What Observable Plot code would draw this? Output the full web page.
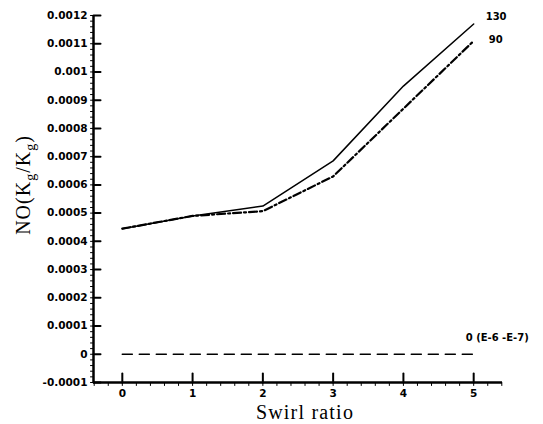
<!DOCTYPE html>
<html><head><meta charset="utf-8">
<script src="https://cdn.jsdelivr.net/npm/d3@7"></script>
<script src="https://cdn.jsdelivr.net/npm/@observablehq/plot@0.6"></script>
<style>body{margin:0;background:#fff} svg{display:block}</style>
</head><body><div id="chart"></div>
<script>
const swirl = [0, 1, 2, 3, 4, 5];
const no130 = [0.000445, 0.00049, 0.000525, 0.000685, 0.00095, 0.00117];
const no90  = [0.000445, 0.00049, 0.000507, 0.00063, 0.00087, 0.00111];
const no0   = [0, 0, 0, 0, 0, 0];
const xTicks = [0, 1, 2, 3, 4, 5];
const yTicks = [-0.0001, 0, 0.0001, 0.0002, 0.0003, 0.0004, 0.0005, 0.0006, 0.0007, 0.0008, 0.0009, 0.001, 0.0011, 0.0012];
const seriesNames = ["130", "90", "0 (E-6 -E-7)"];

const rows = (vals, name) => swirl.map((s, i) => ({x: s, y: vals[i], name}));
const d130 = rows(no130, seriesNames[0]);
const d90 = rows(no90, seriesNames[1]);
const d0 = rows(no0, seriesNames[2]);

const xMin = -0.41, xMax = 5.41, yMin = -0.0001, yMax = 0.0012;
const yMinor = d3.range(0, 66).map(i => yMin + i * 0.00002);
const xMinor = d3.range(0, 30).map(i => -0.4 + i * 0.2);
const tickShape = {draw(ctx, l) { ctx.moveTo(0, 0); ctx.lineTo(0, -l); }};
const sans = "DejaVu Sans";
const serif = "Liberation Serif";

const chart = Plot.plot({
  width: 543, height: 424,
  marginLeft: 93, marginRight: 41, marginTop: 15, marginBottom: 42,
  style: {background: "#fff", color: "#000"},
  x: {domain: [xMin, xMax]},
  y: {domain: [yMin, yMax]},
  marks: [
    // minor ticks
    Plot.vector(yMinor, {x: () => xMin, y: d => d, length: 3, rotate: 270, anchor: "start", shape: tickShape, stroke: "#000", strokeWidth: 1}),
    Plot.vector(xMinor, {x: d => d, y: () => yMin, length: 3, rotate: 180, anchor: "start", shape: tickShape, stroke: "#000", strokeWidth: 1}),
    // major ticks (inward)
    Plot.vector(yTicks, {x: () => xMin, y: d => d, length: 7, rotate: 90, anchor: "start", shape: tickShape, stroke: "#000", strokeWidth: 2}),
    Plot.vector(xTicks, {x: d => d, y: () => yMin, length: 9, rotate: 0, anchor: "start", shape: tickShape, stroke: "#000", strokeWidth: 2}),
    // frame
    Plot.ruleX([xMin], {stroke: "#000", strokeWidth: 2.5}),
    Plot.ruleY([yMin], {stroke: "#000", strokeWidth: 2.5}),
    // axes labels
    Plot.axisY(yTicks, {tickSize: 0, tickPadding: 6, label: null, tickFormat: d => String(+d.toFixed(4)),
      fontFamily: sans, fontWeight: "bold", fontSize: 10.5}),
    Plot.axisX(xTicks, {tickSize: 0, tickPadding: 7, label: null, tickFormat: d => String(d),
      fontFamily: sans, fontWeight: "bold", fontSize: 10.5}),
    // series
    Plot.line(d0, {x: "x", y: "y", stroke: "#000", strokeWidth: 1.6, strokeDasharray: "10,7"}),
    Plot.line(d90, {x: "x", y: "y", stroke: "#000", strokeWidth: 2.2, strokeDasharray: "8,3,2,3"}),
    Plot.line(d130, {x: "x", y: "y", stroke: "#000", strokeWidth: 1.5}),
    // end labels
    Plot.text([d130[5]], {x: "x", y: "y", text: "name", dx: 12, dy: -7, textAnchor: "start", fontFamily: sans, fontWeight: "bold", fontSize: 10}),
    Plot.text([d90[5]], {x: "x", y: "y", text: "name", dx: 15, dy: -1, textAnchor: "start", fontFamily: sans, fontWeight: "bold", fontSize: 10}),
    Plot.text([d0[5]], {x: "x", y: "y", text: "name", dx: -8, dy: -16, textAnchor: "start", fontFamily: sans, fontWeight: "bold", fontSize: 10})
  ]
});

const svg = d3.select(chart);
// x axis title
svg.append("text")
  .attr("x", 305).attr("y", 419)
  .attr("text-anchor", "middle")
  .attr("font-family", serif).attr("font-size", 20).attr("letter-spacing", 1.2)
  .attr("fill", "#000")
  .text("Swirl ratio");
// y axis title with subscripts
const yt = svg.append("text")
  .attr("transform", "translate(30,185) rotate(-90)")
  .attr("text-anchor", "middle")
  .attr("font-family", serif).attr("font-size", 20).attr("letter-spacing", 1)
  .attr("fill", "#000");
yt.append("tspan").text("NO(K");
yt.append("tspan").attr("font-size", 14).attr("dy", 5).text("g");
yt.append("tspan").attr("dy", -5).text("/K");
yt.append("tspan").attr("font-size", 14).attr("dy", 5).text("g");
yt.append("tspan").attr("dy", -5).text(")");

document.getElementById("chart").appendChild(chart);
</script>
</body></html>
